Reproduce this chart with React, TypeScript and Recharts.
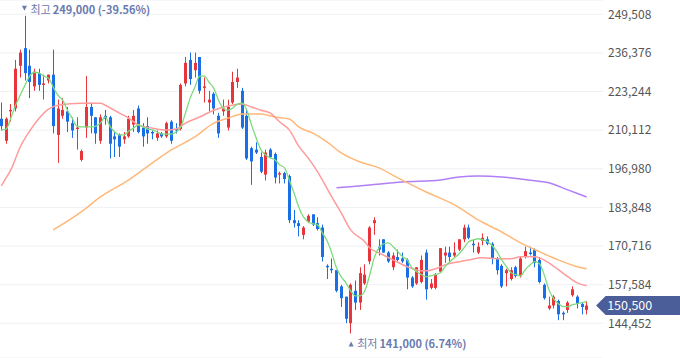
import React from "react";
import {
  Bar,
  CartesianGrid,
  ComposedChart,
  Line,
  ReferenceDot,
  XAxis,
  YAxis
} from "recharts";

// daily candles, oldest first (won)
const opens = [
  214000, 206500, 216500, 217500, 232000, 238000, 232000, 225000, 229500, 225500,
  227000, 229000, 208500, 215000, 216500, 212500, 210500, 200000, 211000, 218000,
  214500, 206500, 215000, 214500, 208000, 208500, 207000, 208000, 212000, 217500,
  211000, 211500, 209500, 207500, 209000, 208000, 213000, 210500, 210500, 226000,
  234000, 230500, 235000, 224500, 219500, 222500, 215000, 216500, 211000, 219500,
  226500, 223500, 215000, 204000, 203500, 201000, 195000, 203500, 202000, 195000,
  195500, 194500, 179500, 178500, 174500, 179000, 181500, 178500, 177000, 164000,
  163000, 162500, 157000, 153500, 144500, 155500, 151500, 158000, 165500, 178500,
  170500, 173000, 168500, 163500, 167000, 166500, 166000, 160000, 158000, 158500,
  168500, 156500, 156500, 162000, 167500, 168500, 167500, 169500, 173000, 177000,
  171500, 168500, 172500, 173000, 171500, 166500, 164000, 161500, 159500, 163500,
  160500, 167000, 168500, 169500, 166000, 157500, 149500, 150500, 152000, 148000,
  149000, 154000, 153500, 151000, 149000
];
const highs = [
  219500, 214500, 219000, 234000, 237500, 249000, 237500, 231000, 231000, 229000,
  229000, 237500, 220500, 221000, 218000, 214500, 214500, 203500, 228500, 219500,
  214500, 215500, 217000, 215000, 209500, 209000, 209500, 215000, 217000, 218500,
  212500, 214500, 210000, 210000, 209500, 213000, 213500, 212500, 226000, 235000,
  236500, 236500, 235000, 228000, 223500, 223000, 216000, 220500, 220500, 230000,
  231000, 224500, 217500, 204500, 206000, 202500, 203500, 204000, 202500, 196000,
  196000, 195000, 183000, 179500, 177500, 181500, 181500, 180500, 178000, 164500,
  166500, 162500, 157500, 153500, 158000, 159000, 163500, 164500, 177500, 180500,
  173000, 173000, 169000, 168500, 169500, 168500, 166500, 160500, 163500, 167500,
  169500, 159500, 161500, 170000, 170500, 170500, 172000, 173000, 178000, 178000,
  173000, 172000, 175000, 174000, 172000, 167000, 164500, 163000, 163500, 164000,
  167000, 170500, 170500, 170000, 167000, 158000, 153500, 154000, 152500, 148500,
  152000, 157000, 154000, 151500, 152000
];
const lows = [
  210000, 205500, 213000, 216500, 228000, 227000, 221000, 223500, 223500, 220500,
  226000, 209000, 199000, 214000, 209500, 207500, 203500, 199500, 207500, 209000,
  205500, 205500, 212000, 200500, 201000, 201000, 205500, 207500, 209500, 209000,
  204500, 205500, 207000, 206500, 207500, 207500, 205500, 209000, 210000, 225000,
  225500, 228000, 222500, 219500, 216500, 215500, 207500, 215000, 210000, 219000,
  224500, 210500, 200000, 191500, 202000, 195500, 193000, 200500, 192000, 192000,
  192000, 178500, 177000, 174000, 173000, 178500, 177500, 176000, 165500, 159500,
  161500, 155000, 150000, 144500, 141000, 149000, 149000, 157500, 164500, 174500,
  167500, 168500, 165000, 162500, 165500, 165000, 156000, 156500, 157500, 158000,
  152500, 156000, 156000, 161500, 165000, 165500, 167000, 169000, 172000, 173000,
  168500, 168000, 171000, 171000, 164500, 161000, 156500, 157000, 159000, 160000,
  160000, 166500, 167500, 163500, 158000, 152500, 149000, 149500, 145500, 145500,
  148000, 153500, 149500, 147500, 147500
];
const closes = [
  211500, 214000, 217000, 231000, 236500, 229500, 226500, 230000, 225500, 226000,
  229000, 211500, 217500, 217000, 213000, 210000, 211000, 203000, 218000, 215000,
  209000, 214500, 214000, 205500, 207000, 204500, 208000, 214000, 215000, 209500,
  208000, 209000, 209000, 209000, 208000, 212500, 206500, 210000, 225500, 233000,
  227500, 233000, 223500, 225000, 220500, 217500, 209000, 217500, 218000, 226500,
  228000, 211000, 200500, 199500, 202500, 196000, 202500, 201000, 194000, 195500,
  193500, 179500, 178500, 177500, 177000, 181000, 178000, 176500, 167000, 163500,
  162500, 155500, 153000, 146000, 157500, 151500, 161500, 161000, 177000, 179500,
  169500, 168500, 165500, 167500, 166000, 165500, 160000, 157000, 163500, 166000,
  156000, 158000, 161000, 170000, 168500, 167000, 168500, 173000, 177000, 173500,
  171000, 170500, 173500, 171500, 166500, 162500, 157000, 162500, 162500, 160500,
  166500, 169000, 168000, 165000, 158500, 153000, 150500, 153500, 147500, 147500,
  151500, 156000, 151000, 150000, 150500
];

// moving averages
const ma5 = [
  210200, 210500, 214200, 218600, 222000, 225400, 228500, 229800, 229500, 228500,
  227800, 224700, 222000, 220300, 216900, 214200, 211500, 211200, 211200, 211200,
  211500, 212500, 214600, 211500, 209500, 208500, 208500, 209800, 210800, 211900,
  211200, 210500, 210200, 209500, 208800, 208800, 208800, 209500, 211200, 215900,
  221000, 224700, 228500, 228500, 226400, 224400, 220300, 217600, 216900, 217600,
  219000, 219300, 216900, 211900, 207400, 203400, 201700, 200700, 200000, 198300,
  197300, 193200, 188800, 184000, 180600, 178900, 178300, 177900, 175200, 172500,
  168400, 163300, 160300, 158200, 155500, 153800, 153800, 155500, 160600, 166700,
  170100, 171500, 171800, 170500, 168800, 167100, 166000, 163300, 162000, 161000,
  160300, 160600, 161000, 161600, 163700, 165400, 166700, 168100, 170100, 172200,
  172800, 173200, 172800, 172200, 170800, 168800, 166000, 163700, 161600, 161000,
  160600, 162700, 164300, 165400, 164700, 161000, 155900, 152800, 151100, 150100,
  150100, 150800, 151100, 151500, 151800
];
const ma20: [number, number][] = [
  [0, 191200], [1, 193900], [2, 196600], [4, 204400], [6, 209800], [8, 214200],
  [10, 217300], [12, 218600], [17, 219300], [21, 219300], [22, 218600], [25, 215900],
  [27, 214200], [29, 211900], [32, 210800], [35, 210200], [37, 210500], [39, 212500],
  [42, 214600], [45, 216900], [48, 218300], [51, 219000], [53, 218000], [55, 216900],
  [57, 215900], [59, 212900], [61, 210200], [63, 204700], [65, 200700], [67, 195900],
  [68, 193200], [70, 187400], [72, 182000], [74, 176200], [77, 172200], [78, 170100],
  [80, 168400], [83, 166000], [86, 163700], [89, 162300], [90, 162300], [92, 163000],
  [94, 164300], [97, 165400], [99, 166000], [102, 166700], [105, 166400], [108, 166400],
  [110, 167100], [113, 167100], [114, 166700], [116, 165000], [118, 162700], [120, 160300],
  [122, 158200], [124, 157200]
];
const ma60: [number, number][] = [
  [11, 176200], [17, 182400], [21, 187400], [27, 193200], [32, 199000], [36, 203400],
  [41, 207800], [45, 212500], [48, 214200], [51, 215600], [55, 215600], [58, 214600],
  [61, 213900], [63, 211200], [66, 209100], [69, 206100], [72, 202400], [76, 199300],
  [80, 197300], [84, 193900], [90, 189100], [96, 184700], [101, 179600], [106, 175500],
  [110, 171800], [114, 168800], [118, 166000], [122, 163700], [124, 163000]
];
const ma120: [number, number][] = [
  [71, 190500], [78, 191500], [85, 192500], [93, 193200], [97, 194200], [101, 194500],
  [106, 194200], [110, 193500], [113, 192900], [116, 192200], [120, 189800], [124, 187400]
];

const yTicks = [144452, 157584, 170716, 183848, 196980, 210112, 223244, 236376, 249508];
const lastPrice = 150500;
const highMark = { index: 5, price: 249000, label: "최고", text: "249,000 (-39.56%)" };
const lowMark = { index: 74, price: 141000, label: "최저", text: "141,000 (6.74%)" };

const UP = "#e8353b";
const DOWN = "#1a6fe6";
const MARK = "#6a7bb0";
const FONT = "'Noto Sans CJK KR', 'Noto Sans', sans-serif";

const lookup = (pts: [number, number][]) => new Map(pts.map(([i, v]) => [i, v]));
const m20 = lookup(ma20);
const m60 = lookup(ma60);
const m120 = lookup(ma120);

const rows = opens.map((o, i) => ({
  i,
  open: o,
  high: highs[i],
  low: lows[i],
  close: closes[i],
  range: [lows[i], highs[i]],
  ma5: ma5[i],
  ma20: m20.get(i) ?? null,
  ma60: m60.get(i) ?? null,
  ma120: m120.get(i) ?? null
}));

function fmt(n: number) {
  return String(n).replace(/\B(?=(\d{3})+(?!\d))/g, ",");
}

function Candle(props: any) {
  const { x, y, width, height, payload } = props;
  const { open, close, high, low } = payload;
  const span = high - low;
  const py = (v: number) => (span > 0 ? y + ((high - v) / span) * height : y);
  const color = close >= open ? UP : DOWN;
  const wx = Math.round(x + width / 2 - 0.5) + 0.5;
  const top = Math.min(py(open), py(close));
  const bh = Math.max(Math.abs(py(open) - py(close)), 1);
  return (
    <g>
      <line x1={wx} x2={wx} y1={y} y2={y + height} stroke={color} strokeWidth={1} />
      <rect x={wx - 1.5} y={top} width={3} height={bh} fill={color} />
    </g>
  );
}

function ExtremeLabel({ cx, cy, up, label, text }: any) {
  const ty = up ? cy + 10.5 : cy - 7.5;
  const tri = up
    ? `${cx - 2},${ty + 2.5} ${cx + 3},${ty + 2.5} ${cx + 0.5},${ty - 2.5}`
    : `${cx - 3},${ty - 2.5} ${cx + 2},${ty - 2.5} ${cx - 0.5},${ty + 2.5}`;
  return (
    <g>
      <polygon points={tri} fill={MARK} />
      <text x={cx + (up ? 6.5 : 5.5)} y={ty + (up ? 4 : 5.5)} fill={MARK} fontSize={11} fontFamily={FONT}>
        <tspan>{label}</tspan>
        <tspan dx={2} fontWeight={700}>{text}</tspan>
      </text>
    </g>
  );
}

function PriceTag({ cx, cy }: any) {
  const tip = cx + 9.5;
  const pts = `${tip},${cy} ${tip + 9.5},${cy - 9.5} 680,${cy - 9.5} 680,${cy + 9.5} ${tip + 9.5},${cy + 9.5}`;
  return (
    <g>
      <polygon points={pts} fill="#4b5e9a" />
      <text x={tip + 11} y={cy + 4.5} fill="#fff" fontSize={12.5} fontFamily={FONT}>
        {fmt(lastPrice)}
      </text>
    </g>
  );
}

export default function App() {
  return (
    <div style={{ position: "absolute", left: 0, top: 0, background: "#fff" }}>
      <ComposedChart
        width={680}
        height={358}
        data={rows}
        margin={{ top: 0, right: 0, left: -1, bottom: 0 }}
      >
        <CartesianGrid vertical={false} stroke="#eef0f4" />
        <XAxis dataKey="i" hide padding={{ left: 0, right: 14 }} />
        <YAxis
          orientation="right"
          width={77}
          type="number"
          domain={[132650, 254370]}
          allowDataOverflow
          ticks={yTicks}
          tickFormatter={fmt}
          axisLine={false}
          tickLine={false}
          tickSize={4}
          tickMargin={1}
          tick={{ fontSize: 12, fill: "#555", fontFamily: FONT }}
        />
        <Bar dataKey="range" barSize={3} shape={Candle} isAnimationActive={false} />
        <Line type="monotone" dataKey="ma120" stroke="#b07ff5" strokeWidth={1.5} dot={false} activeDot={false} connectNulls isAnimationActive={false} />
        <Line type="monotone" dataKey="ma60" stroke="#ffb878" strokeWidth={1.5} dot={false} activeDot={false} connectNulls isAnimationActive={false} />
        <Line type="monotone" dataKey="ma20" stroke="#ff9b9b" strokeWidth={1.5} dot={false} activeDot={false} connectNulls isAnimationActive={false} />
        <Line type="monotone" dataKey="ma5" stroke="#7ddb7d" strokeWidth={1.3} dot={false} activeDot={false} isAnimationActive={false} />
        <ReferenceDot
          x={highMark.index}
          y={highMark.price}
          r={0}
          shape={(p: any) => <ExtremeLabel cx={p.cx} cy={p.cy} label={highMark.label} text={highMark.text} />}
        />
        <ReferenceDot
          x={lowMark.index}
          y={lowMark.price}
          r={0}
          shape={(p: any) => <ExtremeLabel cx={p.cx} cy={p.cy} up label={lowMark.label} text={lowMark.text} />}
        />
        <ReferenceDot
          x={rows.length - 1}
          y={lastPrice}
          r={0}
          shape={(p: any) => <PriceTag cx={p.cx} cy={p.cy} />}
        />
      </ComposedChart>
    </div>
  );
}
